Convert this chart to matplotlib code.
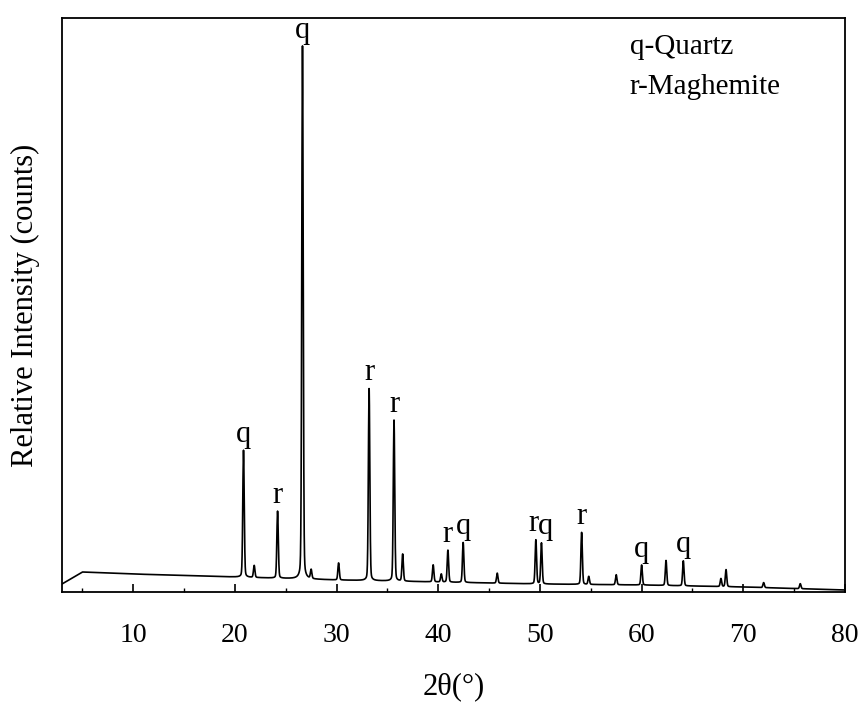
import numpy as np
import matplotlib.pyplot as plt

plt.rcParams['font.family'] = ['Liberation Serif', 'DejaVu Serif']

# baseline
base_x = [3, 4, 5, 10, 20, 30, 40, 50, 60, 70, 80]
base_y = [8, 14, 20, 18, 15, 12, 10, 8, 7, 5, 2]

# peak positions (2theta) and heights above baseline
peak_pos = [20.85, 21.9, 24.2, 26.65, 27.5, 30.2, 33.2, 35.65, 36.5, 39.5, 40.3,
            40.95, 42.45, 45.8, 49.6, 50.15, 54.1, 54.8, 57.5, 60.0, 62.4, 64.1,
            67.8, 68.3, 72.0, 75.6]
peak_h = [127, 12, 67, 533, 9, 17, 192, 161, 27, 17, 8,
          32, 40, 10, 44, 41, 52, 8, 10, 20, 25, 25,
          8, 17, 5, 5]

# phase labels (position of text, label)
lab_pos = [20.85, 24.2, 26.65, 33.2, 35.65, 40.95, 42.45, 49.35, 50.5, 54.1, 60.0, 64.1]
lab_peak = [20.85, 24.2, 26.65, 33.2, 35.65, 40.95, 42.45, 49.6, 50.15, 54.1, 60.0, 64.1]
lab_txt = ['q', 'r', 'q', 'r', 'r', 'r', 'q', 'r', 'q', 'r', 'q', 'q']

x = np.arange(3, 80, 0.01)
y = np.interp(x, base_x, base_y)
for p, h in zip(peak_pos, peak_h):
    y = y + h * (0.85 * np.exp(-0.5 * ((x - p) / 0.07) ** 2)
                 + 0.15 / (1 + ((x - p) / 0.1) ** 2))

fig = plt.figure(figsize=(8.61, 7.18), dpi=100)
ax = fig.add_axes([62 / 861, 1 - 592 / 718, 783 / 861, 574 / 718])
ax.plot(x, y, color='black', lw=1.2)
ax.set_xlim(3, 80)
ax.set_ylim(0, 574)
ax.set_yticks([])
ax.set_xticks(range(10, 81, 10))
ax.set_xticks(range(5, 81, 5), minor=True)
ax.tick_params(axis='x', direction='in', labelsize=20, length=6, width=1.2, pad=22)
ax.tick_params(axis='x', which='minor', direction='in', length=3, width=1)
for s in ax.spines.values():
    s.set_linewidth(1.3)
ax.set_xlabel('2θ(°)', fontsize=22, labelpad=18)
ax.set_ylabel('Relative Intensity (counts)', fontsize=22, labelpad=16)

for lp, pk, t in zip(lab_pos, lab_peak, lab_txt):
    top = np.interp(pk, x, y)
    ax.annotate(t, (lp, top), xytext=(0, 1), textcoords='offset points',
                ha='center', va='bottom', fontsize=22)

ax.text(0.725, 0.95, 'q-Quartz', transform=ax.transAxes, fontsize=21, va='center')
ax.text(0.725, 0.88, 'r-Maghemite', transform=ax.transAxes, fontsize=21, va='center')

fig.savefig('out.png')
